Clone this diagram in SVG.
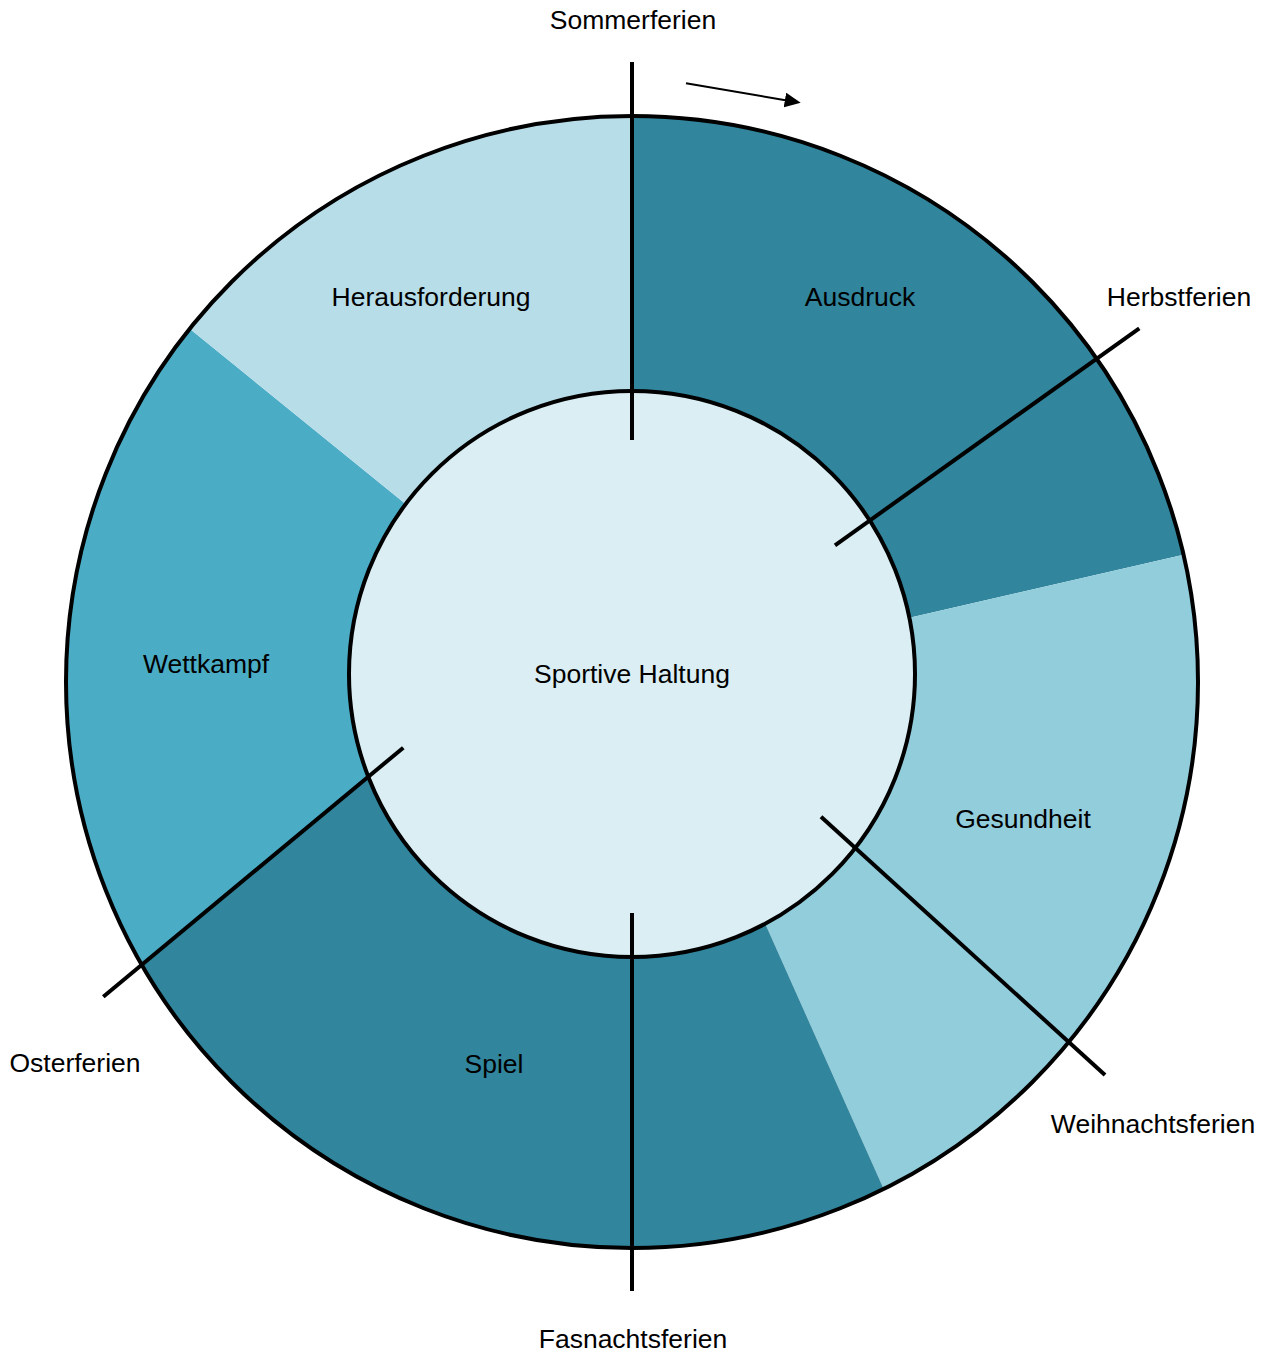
<svg xmlns="http://www.w3.org/2000/svg" width="1271" height="1352" viewBox="0 0 1271 1352">
  <style>
    text { font-family: "Liberation Sans", Arial, sans-serif; font-size: 26.5px; fill: #000; text-anchor: middle; }
    .seg { stroke: none; }
    .dark { fill: #31859C; }
    .mid { fill: #4BACC6; }
    .light { fill: #92CDDC; }
    .pale { fill: #B7DDE8; }
    .ring { fill: none; stroke: #000; stroke-width: 4; }
    .div { stroke: #000; stroke-width: 4; fill: none; }
  </style>
  <defs>
    <marker id="arrow" markerUnits="userSpaceOnUse" markerWidth="17" markerHeight="16" refX="8" refY="7.5" orient="auto">
      <path d="M0,0 L16,7.5 L0,15 Z" fill="#000"/>
    </marker>
  </defs>
  <rect width="1271" height="1352" fill="#fff"/>

  <g id="segments">
    <g id="ausdruck">
      <path class="seg dark" d="M632,500 L632,116 A566,566 0 0 1 1183.5,554.7 L700,666 Z"/>
      <text x="860" y="306">Ausdruck</text>
    </g>
    <g id="gesundheit">
      <path class="seg light" d="M700,666 L1183.5,554.7 A566,566 0 0 1 883.7,1188.9 L726,836 Z"/>
      <text x="1023" y="828">Gesundheit</text>
    </g>
    <g id="spiel">
      <path class="seg dark" d="M726,836 L883.7,1188.9 A566,566 0 0 1 142.4,965.8 L403,747 Z"/>
      <text x="494" y="1073">Spiel</text>
    </g>
    <g id="wettkampf">
      <path class="seg mid" d="M403,747 L142.4,965.8 A566,566 0 0 1 189.7,328.8 L450,540 Z"/>
      <text x="206" y="673">Wettkampf</text>
    </g>
    <g id="herausforderung">
      <path class="seg pale" d="M450,540 L189.7,328.8 A566,566 0 0 1 632,116 L632,500 Z"/>
      <text x="431" y="306">Herausforderung</text>
    </g>
  </g>

  <circle class="ring" cx="632" cy="682" r="566"/>

  <g id="center">
    <circle cx="632" cy="674" r="283" fill="#DAEEF3" stroke="#000" stroke-width="4"/>
    <text x="632" y="683">Sportive Haltung</text>
  </g>

  <g id="connectors">
    <line class="div" x1="632" y1="62" x2="632" y2="440"/>
    <line class="div" x1="835" y1="545.3" x2="1139.3" y2="328.3"/>
    <line class="div" x1="821" y1="816.7" x2="1105" y2="1075"/>
    <line class="div" x1="632" y1="913" x2="632" y2="1291"/>
    <line class="div" x1="103.3" y1="996.7" x2="403.3" y2="747.7"/>
    <line x1="686" y1="83.3" x2="792.8" y2="101.4" stroke="#000" stroke-width="2" marker-end="url(#arrow)"/>
  </g>

  <g id="labels">
    <text x="633" y="29">Sommerferien</text>
    <text x="1179" y="306">Herbstferien</text>
    <text x="1153" y="1133">Weihnachtsferien</text>
    <text x="633" y="1348">Fasnachtsferien</text>
    <text x="75" y="1072">Osterferien</text>
  </g>
</svg>
